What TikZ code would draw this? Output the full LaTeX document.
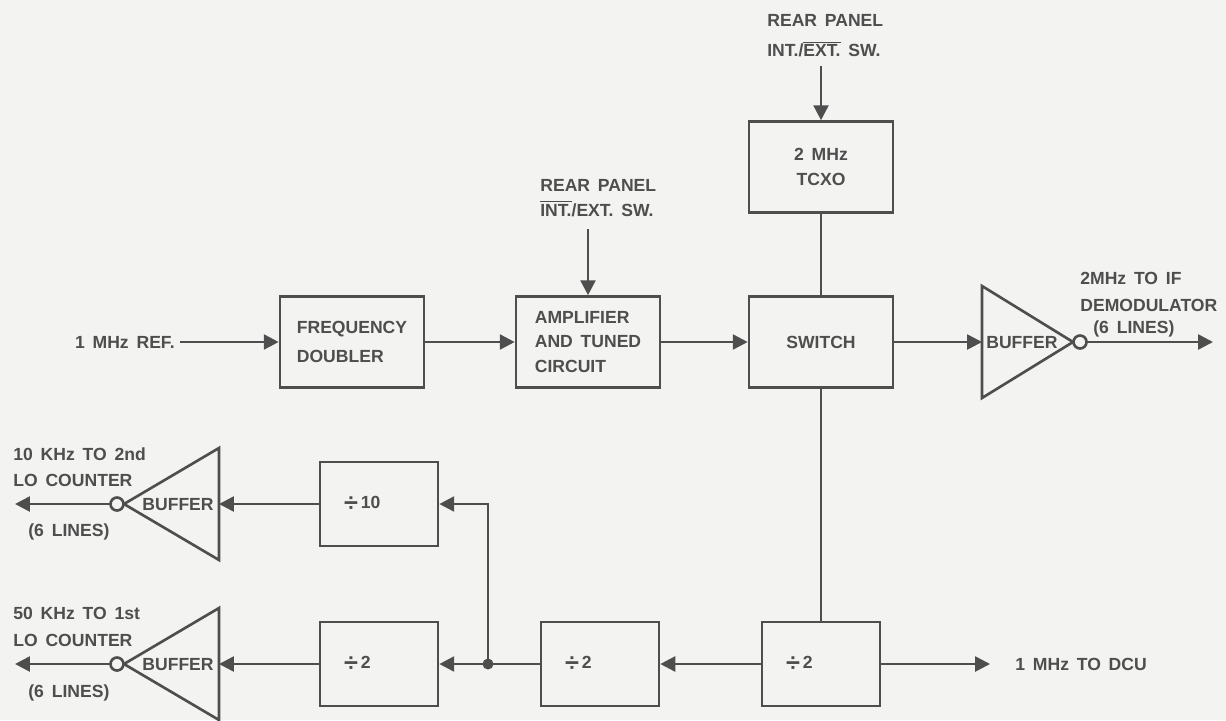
\documentclass[tikz,border=0pt]{standalone}
\usepackage{fontspec}
\setmainfont[WordSpace=1.6]{Liberation Sans}
\usetikzlibrary{arrows.meta, positioning, calc}
\definecolor{paper}{RGB}{243,243,241}
\definecolor{ink}{RGB}{78,78,78}
\newcommand{\barred}[1]{$\overline{\mbox{#1}}$}
\newcommand{\divsign}{{\Large\raisebox{-1.6pt}{÷}}}

\begin{document}
\begin{tikzpicture}[
    x=0.02cm, y=-0.02cm,
    font=\normalsize\bfseries,
    wire/.style={draw=ink, line width=1.5pt},
    sig/.style={wire, -{Triangle[length=8.5pt, width=8.5pt]}},
    block/.style={wire, minimum width=2.88cm, minimum height=1.82cm, inner sep=0pt, align=left, text=ink},
    divbox/.style={wire, minimum width=2.36cm, minimum height=1.68cm, text width=1.4cm, inner xsep=0.4cm, align=left, text=ink},
    buffer/.style={wire, line join=miter},
    bubble/.style={wire, circle, fill=paper, minimum size=0.26cm, inner sep=0pt},
    junction/.style={circle, fill=ink, minimum size=0.22cm, inner sep=0pt},
    lbl/.style={text=ink, inner sep=0pt, align=left}
]

    % --- Page ---
    \fill[paper] (0,0) rectangle (1226,720);
    \useasboundingbox (0,0) rectangle (1226,720);

    % --- Top row ---
    \node[lbl, anchor=east, inner xsep=0.1cm] (ref) at (180,342) {1 MHz REF.};
    \node[block] (dbl) at (352,342) {FREQUENCY\\[5pt]DOUBLER};
    \node[block] (amp) at (588,342) {AMPLIFIER\\[2pt]AND TUNED\\[2pt]CIRCUIT};
    \node[block, align=center] (switch) at (821,342) {SWITCH};
    \node[block, align=center] (tcxo) at (821,167) {2 MHz\\[2pt]TCXO};

    \node[lbl, anchor=west] (rearA) at (767,36) {REAR PANEL\\[5pt]INT./\barred{EXT.} SW.};
    \node[lbl, anchor=west] (rearB) at (540,198) {REAR PANEL\\[2pt]\barred{INT.}/EXT. SW.};

    \draw[sig] ([yshift=-0.16cm]rearA.south -| tcxo.north) -- (tcxo.north);
    \draw[sig] ([yshift=-0.25cm]rearB.south -| amp.north) -- (amp.north);
    \draw[sig] (ref) -- (dbl);
    \draw[sig] (dbl) -- (amp);
    \draw[sig] (amp) -- (switch);
    \draw[wire] (tcxo) -- (switch);

    % --- IF buffer ---
    \draw[buffer] (982,286) -- (1073,342) -- (982,398) -- cycle;
    \coordinate (bufAin) at (982,342);
    \coordinate (ifout) at (1213,342);
    \node[lbl, anchor=west] (bufAtxt) at (986,343) {BUFFER};
    \draw[sig] (switch) -- (bufAin);
    \draw[sig] (1080,342) -- (ifout);
    \node[bubble] (bubA) at (1080,342) {};
    \node[lbl, anchor=west] (ifl) at (1080,305) {2MHz TO IF\\[3pt]DEMODULATOR\\[1pt]\hspace*{0.26cm}(6 LINES)};

    % --- Divider chain ---
    \node[divbox] (div10) at (379,504) {\divsign\,10};
    \node[divbox] (div2a) at (379,664) {\divsign\,2};
    \node[divbox] (div2b) at (600,664) {\divsign\,2};
    \node[divbox] (div2c) at (821,664) {\divsign\,2};
    \node[lbl, anchor=west, inner xsep=0.5cm] (dcu) at (990,664) {1 MHz TO DCU};
    \node[junction] (split) at (488,664) {};

    \draw[wire] (switch) -- (div2c);
    \draw[sig] (div2c) -- (dcu);
    \draw[sig] (div2c) -- (div2b);
    \draw[sig] (div2b) -- (div2a);
    \draw[sig] (split.center) |- (div10.east);

    % --- LO buffers ---
    \draw[buffer] (219,448) -- (124,504) -- (219,560) -- cycle;
    \coordinate (bufBin) at (219,504);
    \coordinate (out10) at (15,504);
    \node[lbl, anchor=east] (bufBtxt) at (214,505) {BUFFER};
    \draw[sig] (div10) -- (bufBin);
    \draw[sig] (117,504) -- (out10);
    \node[bubble] (bubB) at (117,504) {};

    \draw[buffer] (219,608) -- (124,664) -- (219,720) -- cycle;
    \coordinate (bufCin) at (219,664);
    \coordinate (out50) at (15,664);
    \node[lbl, anchor=east] (bufCtxt) at (214,665) {BUFFER};
    \draw[sig] (div2a) -- (bufCin);
    \draw[sig] (117,664) -- (out50);
    \node[bubble] (bubC) at (117,664) {};

    \node[lbl, anchor=west] (lo10) at (13,467) {10 KHz TO 2nd\\[3pt]LO COUNTER};
    \node[lbl, anchor=west] (lines10) at (28,532) {(6 LINES)};
    \node[lbl, anchor=west] (lo50) at (13,627) {50 KHz TO 1st\\[3pt]LO COUNTER};
    \node[lbl, anchor=west] (lines50) at (28,693) {(6 LINES)};
\end{tikzpicture}
\end{document}
